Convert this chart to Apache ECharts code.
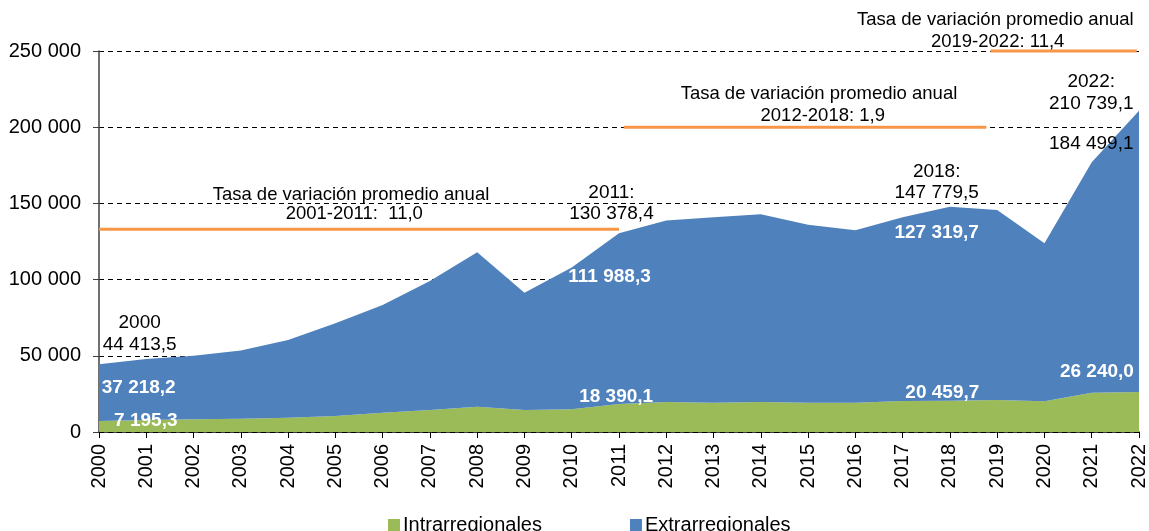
<!DOCTYPE html>
<html>
<head>
<meta charset="utf-8">
<script src="https://cdn.jsdelivr.net/npm/echarts@6/dist/echarts.min.js"></script>
<style>
    html, body { margin: 0; padding: 0; background: #fff; }
    #chartBox { width: 1149px; height: 531px; }
</style>
</head>
<body>
<div id="chartBox"></div>
<script>
var years = ['2000', '2001', '2002', '2003', '2004', '2005', '2006', '2007', '2008', '2009', '2010', '2011',
    '2012', '2013', '2014', '2015', '2016', '2017', '2018', '2019', '2020', '2021', '2022']
// Intrarregionales (abajo, verde)
var intraValues = [7195.3, 7900, 8300, 8700, 9400, 10500, 12700, 14400, 16600, 14400, 14900, 18390.1,
    19700, 19200, 19700, 19200, 19200, 20300, 20459.7, 21000, 20100, 25800, 26240.0]
// Extrarregionales (arriba, azul)
var extraValues = [37218.2, 40000, 41700, 44700, 51000, 60800, 70600, 84600, 101400, 77000, 93100, 111988.3,
    119000, 121700, 123100, 116800, 113100, 120600, 127319.7, 124700, 103700, 151200, 184499.1]
var yTicks = [0, 50000, 100000, 150000, 200000, 250000]
var seriesNames = ['Intrarregionales', 'Extrarregionales']

// tasas de variacion: [desde, hasta, nivel] (x en años)
var rateLines = [
    [2000, 2011, 133000],
    [2011.1, 2018.77, 200000],
    [2018.86, 2021.95, 250000]
]
// textos: [x, y, texto, blanco/negrita]
var notes = [
    [2000.86, 71500, '2000', false],
    [2000.86, 57100, '44 413,5', false],
    [2000.84, 28900, '37 218,2', true],
    [2000.99, 7200, '7 195,3', true],
    [2010.84, 156800, '2011:', false],
    [2010.84, 143000, '130 378,4', false],
    [2010.8, 101700, '111 988,3', true],
    [2010.94, 23000, '18 390,1', true],
    [2017.72, 170600, '2018:', false],
    [2017.72, 156800, '147 779,5', false],
    [2017.72, 130800, '127 319,7', true],
    [2017.84, 26000, '20 459,7', true],
    [2020.99, 229900, '2022:', false],
    [2020.99, 215700, '210 739,1', false],
    [2020.99, 189000, '184 499,1', false],
    [2021.11, 39600, '26 240,0', true]
]
var rateNotes = [
    [2005.33, 155500, 'Tasa de variación promedio anual'],
    [2005.4, 143000, '2001-2011:  11,0'],
    [2015.23, 221800, 'Tasa de variación promedio anual'],
    [2015.31, 207100, '2012-2018: 1,9'],
    [2018.96, 270300, 'Tasa de variación promedio anual'],
    [2019.01, 255900, '2019-2022: 11,4']
]

var FONT = '"Liberation Sans", Arial, sans-serif'

function fmtThousands(v) {
    return String(v).replace(/\B(?=(\d{3})+(?!\d))/g, ' ')
}

var myChart = echarts.init(document.getElementById('chartBox'))
var option = {
    animation: false,
    color: ['#9BBB59', '#4F81BD'],
    grid: { left: 99, right: 7, top: 51, bottom: 99, containLabel: false },
    legend: {
        data: seriesNames,
        left: 383,
        top: 510,
        icon: 'rect',
        itemWidth: 12,
        itemHeight: 12,
        itemGap: 88,
        textStyle: { fontFamily: FONT, fontSize: 20, color: '#000', padding: [0, 0, 0, -2] }
    },
    xAxis: {
        type: 'category',
        data: years,
        boundaryGap: false,
        splitLine: { show: false },
        axisLine: { lineStyle: { color: '#000', width: 1.5 } },
        axisTick: { show: true, length: 6, alignWithLabel: true, lineStyle: { color: '#000' } },
        axisLabel: {
            rotate: 90,
            margin: 12,
            interval: 0,
            color: '#000',
            fontFamily: FONT,
            fontSize: 20
        }
    },
    yAxis: {
        type: 'value',
        min: yTicks[0],
        max: yTicks[yTicks.length - 1],
        interval: 50000,
        axisLine: { show: true, lineStyle: { color: '#404040', width: 1.5 } },
        axisTick: { show: true, length: 6, lineStyle: { color: '#404040' } },
        splitLine: { show: true, lineStyle: { color: '#000', type: [5, 4], width: 1 } },
        axisLabel: {
            margin: 18,
            color: '#000',
            fontFamily: FONT,
            fontSize: 20,
            formatter: fmtThousands
        }
    },
    series: [
        {
            name: seriesNames[0],
            type: 'line',
            stack: 'total',
            showSymbol: false,
            symbol: 'none',
            lineStyle: { width: 0 },
            areaStyle: { color: '#9BBB59', opacity: 1 },
            data: intraValues
        },
        {
            name: seriesNames[1],
            type: 'line',
            stack: 'total',
            showSymbol: false,
            symbol: 'none',
            lineStyle: { width: 0 },
            areaStyle: { color: '#4F81BD', opacity: 1 },
            data: extraValues
        }
    ]
}
myChart.setOption(option)

// posicion en pixeles para un año (puede ser fraccionario)
function toPixel(yr, val) {
    var i0 = Math.max(0, Math.min(years.length - 2, Math.floor(yr - 2000)))
    var p0 = myChart.convertToPixel({ gridIndex: 0 }, [i0, val])
    var p1 = myChart.convertToPixel({ gridIndex: 0 }, [i0 + 1, val])
    var t = yr - 2000 - i0
    return [p0[0] + (p1[0] - p0[0]) * t, p0[1]]
}

// lineas naranjas y etiquetas de texto
function addNotes() {
    var els = []
    $each(rateLines, function (r) {
        var a = toPixel(r[0], r[2])
        var b = toPixel(r[1], r[2])
        els.push({
            type: 'line',
            z: 90,
            shape: { x1: a[0], y1: a[1], x2: b[0], y2: b[1] },
            style: { stroke: '#F79646', lineWidth: 3 }
        })
    })
    $each(notes, function (n) {
        var p = toPixel(n[0], n[1])
        els.push({
            type: 'text',
            x: p[0],
            y: p[1],
            z: 100,
            style: {
                text: n[2],
                fill: n[3] ? '#fff' : '#000',
                font: (n[3] ? 'bold ' : '') + '19px ' + FONT,
                textAlign: 'center',
                textVerticalAlign: 'middle'
            }
        })
    })
    $each(rateNotes, function (n) {
        var p = toPixel(n[0], n[1])
        els.push({
            type: 'text',
            x: p[0],
            y: p[1],
            z: 100,
            style: {
                text: n[2],
                fill: '#000',
                font: '18.5px ' + FONT,
                textAlign: 'center',
                textVerticalAlign: 'middle'
            }
        })
    })
    myChart.setOption({ graphic: els })
}
function $each(arr, fn) {
    for (var i = 0; i < arr.length; i++) fn(arr[i], i)
}
addNotes()
</script>
</body>
</html>
